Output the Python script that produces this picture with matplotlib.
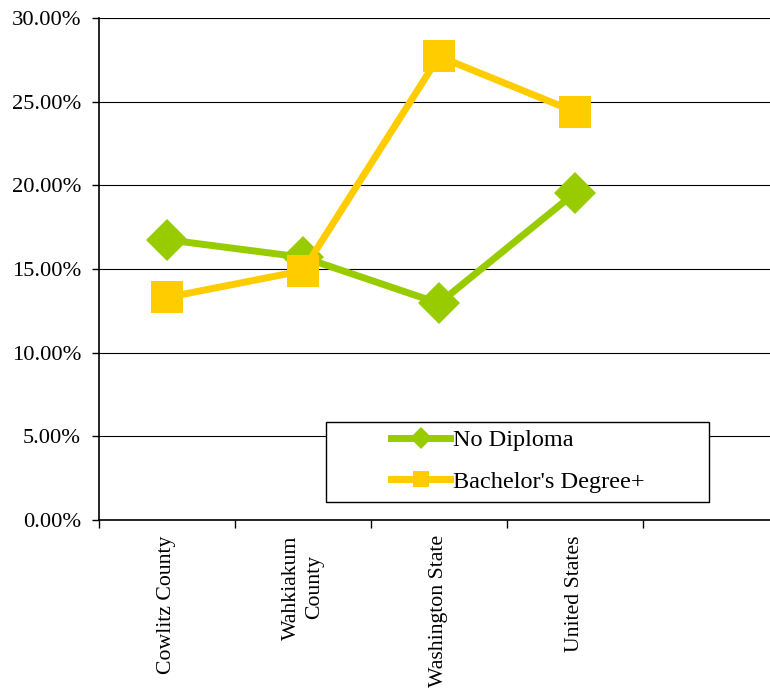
import matplotlib
matplotlib.use("Agg")
import matplotlib.pyplot as plt
from matplotlib.lines import Line2D
from matplotlib.patches import Rectangle
from matplotlib.ticker import FixedLocator, PercentFormatter

categories = ["Cowlitz County", "Wahkiakum\nCounty", "Washington State", "United States"]
no_diploma = [16.75, 15.7, 12.95, 19.55]
bachelors = [13.3, 14.9, 27.7, 24.4]
series_names = ["No Diploma", "Bachelor's Degree+"]
y_ticks = [0, 5, 10, 15, 20, 25, 30]

plt.rcParams['font.family'] = ['Liberation Serif', 'DejaVu Serif']
fig = plt.figure(figsize=(7.7, 6.9), dpi=100)
ax = fig.add_axes([99/770, 1-520/690, 680/770, 502/690])

green = '#99CC00'
yellow = '#FFCC00'
x = list(range(len(categories)))

ax.plot(x, no_diploma, color=green, lw=5, marker='D', ms=21, mec=green, mew=0, zorder=3)
ax.plot(x, bachelors, color=yellow, lw=5, marker='s', ms=23, mec=yellow, mew=0, zorder=4)

ax.set_xlim(-0.5, 4.5)
ax.set_ylim(0, 30)
ax.set_yticks(y_ticks)
ax.yaxis.set_major_formatter(PercentFormatter(xmax=100, decimals=2))
ax.grid(axis='y', color='black', lw=0.8, zorder=1)
ax.set_axisbelow(True)

ax.set_xticks(x)
ax.set_xticklabels(categories, rotation=90, va='top', ha='center', multialignment='center',
                   linespacing=1.3)
ax.xaxis.set_minor_locator(FixedLocator([i - 0.5 for i in range(len(categories) + 2)]))
ax.tick_params(axis='x', which='major', length=0, pad=11, labelsize=15.7)
ax.tick_params(axis='x', which='minor', length=6, width=1, direction='out', color='black')
ax.tick_params(axis='y', length=5, width=1, direction='out', pad=8, labelsize=16.2, color='black')

for s in ['top', 'right']:
    ax.spines[s].set_visible(False)
for s in ['left', 'bottom']:
    ax.spines[s].set_color('black')
    ax.spines[s].set_linewidth(1.2)

rect = Rectangle((326/770, 1-502/690), 383/770, 80/690, transform=fig.transFigure,
                 facecolor='white', edgecolor='black', lw=1, zorder=2)
fig.patches.append(rect)

handles = [
    Line2D([], [], color=green, lw=5, marker='D', ms=11, mec=green, mew=0),
    Line2D([], [], color=yellow, lw=5, marker='s', ms=12, mec=yellow, mew=0),
]
fig.legend(handles, series_names, loc='center', bbox_to_anchor=(517.5/770, 1-461/690),
           frameon=False, fontsize=17.5, handlelength=2.45, handletextpad=0.1,
           labelspacing=0.82, borderpad=0)

fig.savefig('out.png', dpi=100)
